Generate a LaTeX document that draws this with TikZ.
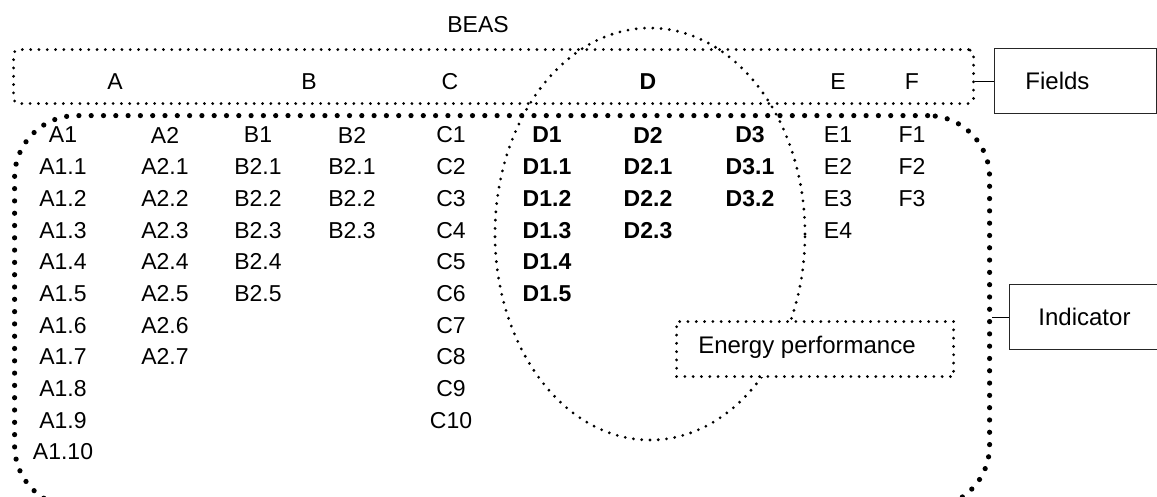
\documentclass[tikz,border=0pt]{standalone}
\usepackage{fontspec}
\setmainfont{Liberation Sans}
\usetikzlibrary{shapes.geometric}
\tikzset{
  smalldot/.style={line width=3.1pt, dash pattern=on 0pt off 8.3pt, line cap=round},
  bigdot/.style={line width=5.2pt, dash pattern=on 0pt off 12.3pt, line cap=round},
  lbl/.style={font=\fontsize{23}{25}\selectfont, inner sep=0pt, anchor=center},
  blbl/.style={lbl, font=\fontsize{23}{25}\selectfont\bfseries},
  sidebox/.style={draw=black!85, line width=0.9pt, font=\fontsize{24}{26}\selectfont, align=left, minimum height=65pt, inner ysep=0pt},
}
\begin{document}
\begin{tikzpicture}[x=1pt,y=-1pt]
\useasboundingbox (0,0) rectangle (1157,496);
\clip (0,0) rectangle (1157,496);
% BEAS title
\node[lbl] (beas) at (478,25) {BEAS};
% fields row
\node[smalldot, draw, rounded corners=5pt, minimum width=960pt, minimum height=54pt, anchor=north west, inner sep=0pt] (fieldsrow) at (12,48) {};
\node[lbl] (fa) at (115,82) {A};
\node[lbl] (fb) at (309,82) {B};
\node[lbl] (fc) at (450,82) {C};
\node[blbl] (fd) at (648,82) {D};
\node[lbl] (fe) at (838,82) {E};
\node[lbl] (ff) at (912,82) {F};
% big indicator area
\node[bigdot, draw, rounded corners=62pt, minimum width=975pt, minimum height=392pt, anchor=north west, inner sep=0pt] (indarea) at (12,113) {};
% ellipse
\node[smalldot, draw, ellipse, minimum width=310pt, minimum height=412pt, inner sep=0pt] (ell) at (650,234) {};
% columns
\foreach \t [count=\k from 0] in {A1,A1.1,A1.2,A1.3,A1.4,A1.5,A1.6,A1.7,A1.8,A1.9,A1.10}
  \node[lbl] (ca-\k) at (63,135+31.7*\k) {\t};
\foreach \t [count=\k from 0] in {A2,A2.1,A2.2,A2.3,A2.4,A2.5,A2.6,A2.7}
  \node[lbl] (cb-\k) at (165,135+31.7*\k) {\t};
\foreach \t [count=\k from 0] in {B1,B2.1,B2.2,B2.3,B2.4,B2.5}
  \node[lbl] (cc-\k) at (258,135+31.7*\k) {\t};
\foreach \t [count=\k from 0] in {B2,B2.1,B2.2,B2.3}
  \node[lbl] (cd-\k) at (352,135+31.7*\k) {\t};
\foreach \t [count=\k from 0] in {C1,C2,C3,C4,C5,C6,C7,C8,C9,C10}
  \node[lbl] (ce-\k) at (451,135+31.7*\k) {\t};
\foreach \t [count=\k from 0] in {D1,D1.1,D1.2,D1.3,D1.4,D1.5}
  \node[blbl] (cf-\k) at (547,135+31.7*\k) {\t};
\foreach \t [count=\k from 0] in {D2,D2.1,D2.2,D2.3}
  \node[blbl] (cg-\k) at (648,135+31.7*\k) {\t};
\foreach \t [count=\k from 0] in {D3,D3.1,D3.2}
  \node[blbl] (ch-\k) at (750,135+31.7*\k) {\t};
\foreach \t [count=\k from 0] in {E1,E2,E3,E4}
  \node[lbl] (ci-\k) at (838,135+31.7*\k) {\t};
\foreach \t [count=\k from 0] in {F1,F2,F3}
  \node[lbl] (cj-\k) at (912,135+31.7*\k) {\t};
% energy performance box
\node[smalldot, draw, fill=white, minimum width=277pt, minimum height=55pt, anchor=north west, inner sep=0pt] (energy) at (675,320) {};
\node[lbl, font=\fontsize{24}{26}\selectfont] (energytxt) at (807,347) {Energy performance};
% side boxes
\node[sidebox, text width=100pt, inner xsep=31pt, anchor=north west] (fields) at (994,48) {Fields};
\node[sidebox, text width=140pt, inner xsep=29pt, anchor=north west] (indicator) at (1009,284) {Indicator};
% connectors
\draw[line width=0.9pt] (fieldsrow.east |- fields.west) -- (fields.west);
\draw[line width=0.9pt] (indarea.east |- indicator.west) -- (indicator.west);
\end{tikzpicture}
\end{document}
